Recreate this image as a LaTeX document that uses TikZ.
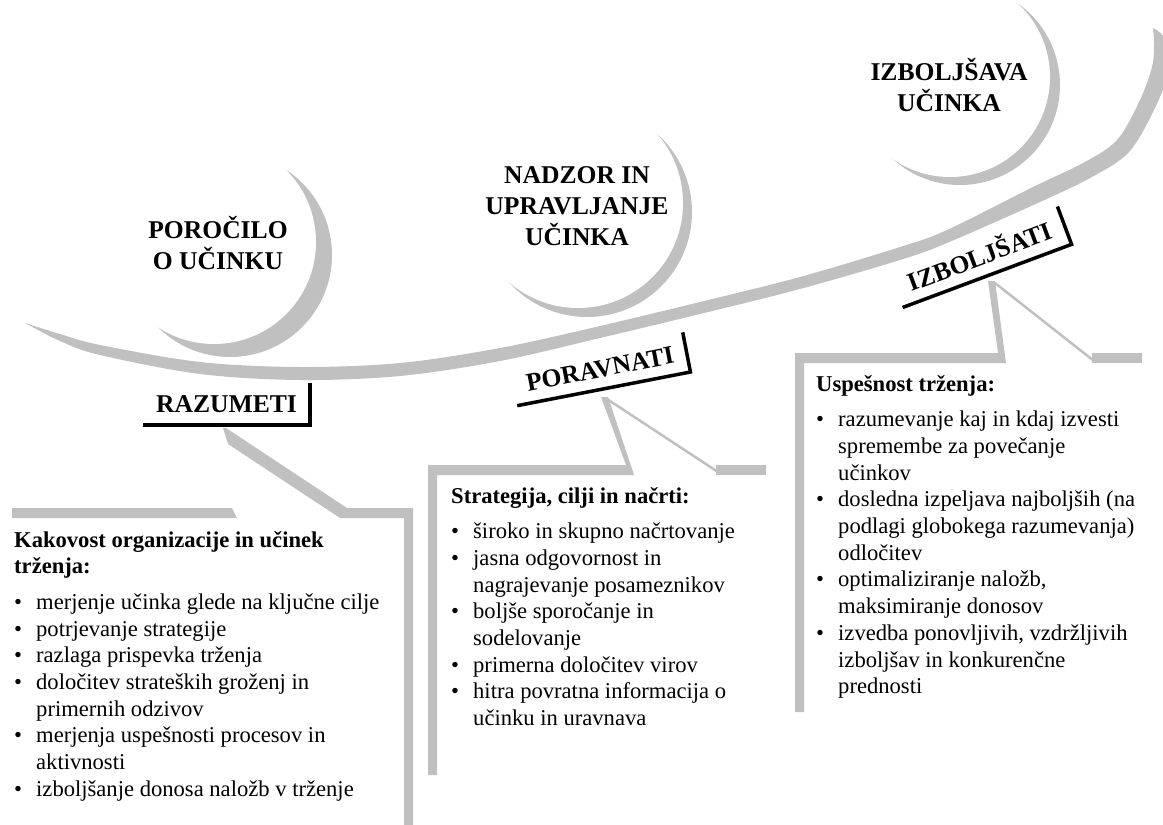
\documentclass[tikz,border=0pt]{standalone}
\usepackage{fontspec}
\setmainfont{Liberation Serif}
\definecolor{bandgrey}{RGB}{192,192,192}
% body text of the three panels
\newcommand\notefont{\fontsize{22.6pt}{26.7pt}\selectfont}
\newcommand\noteitem[1]{\par\hangindent=22pt\hangafter=1\noindent\makebox[22pt][l]{\textbullet}#1\par}
\newcommand\notehead[1]{\noindent\textbf{#1}\par\vspace{9pt}}
\begin{document}
\begin{tikzpicture}[x=1pt,y=-1pt,
  disc/.style={fill=white},
  discshade/.style={fill=bandgrey},
  stage/.style={anchor=base, inner sep=0pt,
    font=\bfseries\fontsize{25.6pt}{31pt}\selectfont},
  tag/.style={fill=white, inner sep=0pt, minimum height=40pt,
    text height=17pt, text depth=0pt,
    font=\bfseries\fontsize{25.6pt}{31pt}\selectfont},
  tagedge/.style={draw=black, line width=3.5pt},
  panel/.style={fill=bandgrey},
  thinrule/.style={draw=bandgrey, line width=2.5pt},
  notes/.style={anchor=base west, inner sep=0pt}
]
\useasboundingbox (0,0) rectangle (1163,825);

% sweeping arc behind the three stages
\begin{scope}
  \clip (0,0) rectangle (1163,825);
  \fill[bandgrey] plot[smooth, tension=0.55] coordinates {(25,323) (60,341) (100,355) (200,374) (300,380) (400,376) (500,361) (600,338) (700,314) (800,289) (900,260) (947,243) (1040,202) (1092,177) (1129,152) (1155,108) (1168,72) (1166,40) (1153,28)}
    -- plot[smooth, tension=0.55] coordinates {(1153,28) (1154,45) (1152,67) (1140,100) (1117,140) (1083,163) (1033,187) (947,230) (900,247) (800,277) (700,302) (600,326) (500,348) (400,363) (300,367) (200,362) (100,345) (60,334) (25,323)} -- cycle;
\end{scope}

% stage discs with their shadows
\fill[discshade] (230,255) circle (102);
\fill[disc] (214,242) circle (102);
\fill[discshade] (587,212) circle (105);
\fill[disc] (578,203) circle (105);
\fill[discshade] (960,85) circle (100);
\fill[disc] (950,77) circle (100);

\node[stage] (s1) at (218,238) {\parbox[t]{160pt}{\centering POROČILO\\O UČINKU}};
\node[stage] (s2) at (577,183) {\parbox[t]{200pt}{\centering NADZOR IN\\UPRAVLJANJE\\UČINKA}};
\node[stage] (s3) at (949,80) {\parbox[t]{170pt}{\centering IZBOLJŠAVA\\UČINKA}};

% action tags
\node[tag, minimum width=167pt, minimum height=42pt] (t1) at (226.5,404) {RAZUMETI};
\draw[tagedge] (t1.north east) -- (t1.south east) -- (t1.south west);
\node[tag, minimum width=176pt, rotate=11] (t2) at (600,369) {PORAVNATI};
\draw[tagedge] (t2.north east) -- (t2.south east) -- (t2.south west);
\node[tag, minimum width=180pt, rotate=20.5] (t3) at (980,257) {IZBOLJŠATI};
\draw[tagedge] (t3.north east) -- (t3.south east) -- (t3.south west);

% first panel frame
\fill[panel] (12,508) -- (232,508) -- (237,518) -- (12,518) -- cycle;
\fill[panel] (223,428) -- (226,428) -- (347,508) -- (413,508) -- (413,825)
  -- (404,825) -- (404,518) -- (340,518) -- (228,444) -- cycle;

% second panel frame
\fill[panel] (428,775) -- (428,465) -- (626,465) -- (601,397) -- (608,397)
  -- (634,475) -- (437,475) -- (437,775) -- cycle;
\draw[thinrule] (607,399) -- (718,472);
\fill[panel] (716,465) rectangle (766,475);

% third panel frame
\fill[panel] (795,712) -- (795,353) -- (998,353) -- (988,281) -- (995,281)
  -- (1006,363) -- (804,363) -- (804,712) -- cycle;
\draw[thinrule] (995,283) -- (1094,361);
\fill[panel] (1092,353) rectangle (1142,363);

% panel texts
\node[notes] (n1) at (14,547) {\parbox[t]{385pt}{\notefont
\notehead{Kakovost organizacije in učinek\\trženja:}
\noteitem{merjenje učinka glede na ključne cilje}
\noteitem{potrjevanje strategije}
\noteitem{razlaga prispevka trženja}
\noteitem{določitev strateških groženj in\\primernih odzivov}
\noteitem{merjenja uspešnosti procesov in\\aktivnosti}
\noteitem{izboljšanje donosa naložb v trženje}}};

\node[notes] (n2) at (451,503) {\parbox[t]{320pt}{\notefont
\notehead{Strategija, cilji in načrti:}
\noteitem{široko in skupno načrtovanje}
\noteitem{jasna odgovornost in\\nagrajevanje posameznikov}
\noteitem{boljše sporočanje in\\sodelovanje}
\noteitem{primerna določitev virov}
\noteitem{hitra povratna informacija o\\učinku in uravnava}}};

\node[notes] (n3) at (816,391) {\parbox[t]{340pt}{\notefont
\notehead{Uspešnost trženja:}
\noteitem{razumevanje kaj in kdaj izvesti\\spremembe za povečanje\\učinkov}
\noteitem{dosledna izpeljava najboljših (na\\podlagi globokega razumevanja)\\odločitev}
\noteitem{optimaliziranje naložb,\\maksimiranje donosov}
\noteitem{izvedba ponovljivih, vzdržljivih\\izboljšav in konkurenčne\\prednosti}}};
\end{tikzpicture}
\end{document}
